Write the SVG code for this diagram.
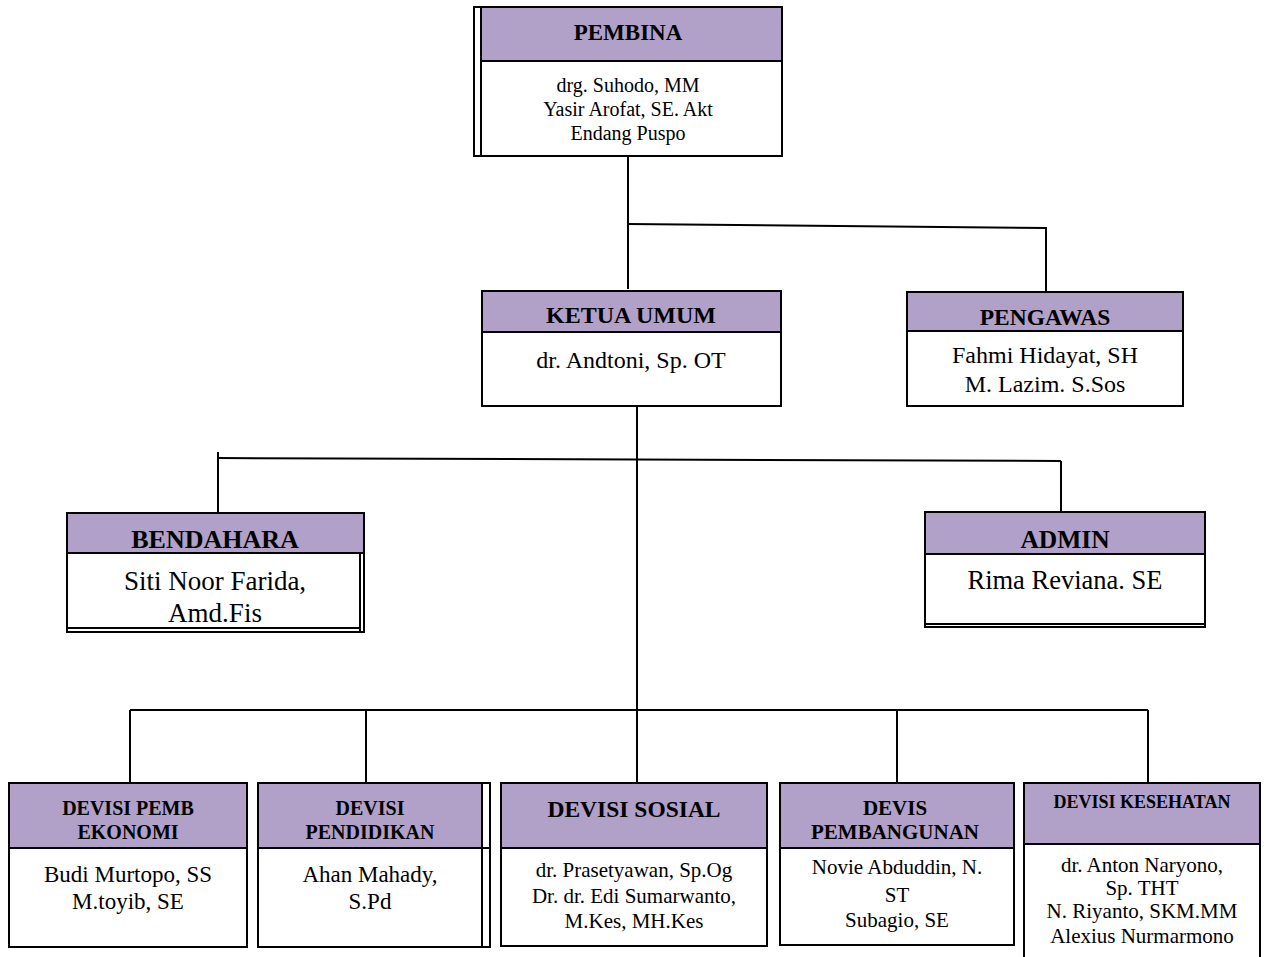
<svg xmlns="http://www.w3.org/2000/svg" width="1266" height="957" viewBox="0 0 1266 957">
<style>
.hd{fill:#b1a0c7}
.bx{fill:#ffffff}
.ln{stroke:#000;stroke-width:2;fill:none}
.t{font-family:"Liberation Serif","Times New Roman",serif;text-anchor:middle;fill:#000}
.b{font-weight:bold}
</style>
<rect x="0" y="0" width="1266" height="957" fill="#ffffff"/>
<g id="connectors" class="ln">
<path d="M628 157V289"/>
<path d="M628 224L1046 228V292"/>
<path d="M637 406V783"/>
<path d="M218 458L1061 461"/>
<path d="M218 452V514"/>
<path d="M1061 461V512"/>
<path d="M130 710H1148"/>
<path d="M130 710V783"/>
<path d="M366 710V783"/>
<path d="M897 710V783"/>
<path d="M1148 710V783"/>
</g>
<g id="pembina">
<rect class="hd" x="481" y="7" width="301" height="54"/>
<rect class="ln" x="474" y="7" width="308" height="149"/>
<path class="ln" d="M481 7V156M481 61H782"/>
<text class="t b" x="628" y="40" font-size="23">PEMBINA</text>
<text class="t" x="628" y="92" font-size="20">drg. Suhodo, MM</text>
<text class="t" x="628" y="116" font-size="20">Yasir Arofat, SE. Akt</text>
<text class="t" x="628" y="140" font-size="20">Endang Puspo</text>
</g>
<g id="ketua">
<rect class="hd" x="482" y="291" width="299" height="41"/>
<rect class="ln" x="482" y="291" width="299" height="115"/>
<path class="ln" d="M482 332H781"/>
<text class="t b" x="631" y="323" font-size="24">KETUA UMUM</text>
<text class="t" x="631" y="368" font-size="24">dr. Andtoni, Sp. OT</text>
</g>
<g id="pengawas">
<rect class="hd" x="907" y="292" width="276" height="39"/>
<rect class="ln" x="907" y="292" width="276" height="114"/>
<path class="ln" d="M907 331H1183"/>
<text class="t b" x="1045" y="325" font-size="23.5">PENGAWAS</text>
<text class="t" x="1045" y="363" font-size="24">Fahmi Hidayat, SH</text>
<text class="t" x="1045" y="392" font-size="24">M. Lazim. S.Sos</text>
</g>
<g id="bendahara">
<rect class="hd" x="67" y="513" width="297" height="40"/>
<rect class="ln" x="67" y="513" width="297" height="119"/>
<path class="ln" d="M67 553H364M360 553V632M67 628H360"/>
<text class="t b" x="215" y="548" font-size="26">BENDAHARA</text>
<text class="t" x="215" y="590" font-size="27">Siti Noor Farida,</text>
<text class="t" x="215" y="622" font-size="27">Amd.Fis</text>
</g>
<g id="admin">
<rect class="hd" x="925" y="512" width="280" height="42"/>
<rect class="ln" x="925" y="512" width="280" height="115"/>
<path class="ln" d="M925 554H1205M925 624H1205"/>
<text class="t b" x="1065" y="548" font-size="25.5">ADMIN</text>
<text class="t" x="1065" y="589" font-size="26.5">Rima Reviana. SE</text>
</g>
<g id="devisi-ekonomi">
<rect class="hd" x="9" y="783" width="238" height="65"/>
<rect class="ln" x="9" y="783" width="238" height="164"/>
<path class="ln" d="M9 848H247"/>
<text class="t b" x="128" y="815" font-size="20">DEVISI PEMB</text>
<text class="t b" x="128" y="839" font-size="20">EKONOMI</text>
<text class="t" x="128" y="882" font-size="23">Budi Murtopo, SS</text>
<text class="t" x="128" y="909" font-size="23">M.toyib, SE</text>
</g>
<g id="devisi-pendidikan">
<rect class="hd" x="258" y="783" width="224" height="65"/>
<rect class="ln" x="258" y="783" width="232" height="164"/>
<path class="ln" d="M258 848H490M482 783V947"/>
<text class="t b" x="370" y="815" font-size="20">DEVISI</text>
<text class="t b" x="370" y="839" font-size="20">PENDIDIKAN</text>
<text class="t" x="370" y="882" font-size="23">Ahan Mahady,</text>
<text class="t" x="370" y="909" font-size="23">S.Pd</text>
</g>
<g id="devisi-sosial">
<rect class="hd" x="501" y="783" width="266" height="65"/>
<rect class="ln" x="501" y="783" width="266" height="163"/>
<path class="ln" d="M501 848H767"/>
<text class="t b" x="634" y="817" font-size="23.5">DEVISI SOSIAL</text>
<text class="t" x="634" y="877" font-size="21">dr. Prasetyawan, Sp.Og</text>
<text class="t" x="634" y="903" font-size="21">Dr. dr. Edi Sumarwanto,</text>
<text class="t" x="634" y="928" font-size="21">M.Kes, MH.Kes</text>
</g>
<g id="devisi-pembangunan">
<rect class="hd" x="780" y="783" width="234" height="65"/>
<rect class="ln" x="780" y="783" width="234" height="162"/>
<path class="ln" d="M780 848H1014"/>
<text class="t b" x="895" y="815" font-size="21">DEVIS</text>
<text class="t b" x="895" y="839" font-size="21">PEMBANGUNAN</text>
<text class="t" x="897" y="874" font-size="21">Novie Abduddin, N.</text>
<text class="t" x="897" y="902" font-size="21">ST</text>
<text class="t" x="897" y="927" font-size="21">Subagio, SE</text>
</g>
<g id="devisi-kesehatan">
<rect class="hd" x="1024" y="783" width="236" height="61"/>
<path class="ln" d="M1024 960V783H1260V960M1024 844H1260"/>
<text class="t b" x="1142" y="808" font-size="18">DEVISI KESEHATAN</text>
<text class="t" x="1142" y="872" font-size="21">dr. Anton Naryono,</text>
<text class="t" x="1142" y="895" font-size="21">Sp. THT</text>
<text class="t" x="1142" y="918" font-size="21">N. Riyanto, SKM.MM</text>
<text class="t" x="1142" y="943" font-size="21">Alexius Nurmarmono</text>
</g>
</svg>
